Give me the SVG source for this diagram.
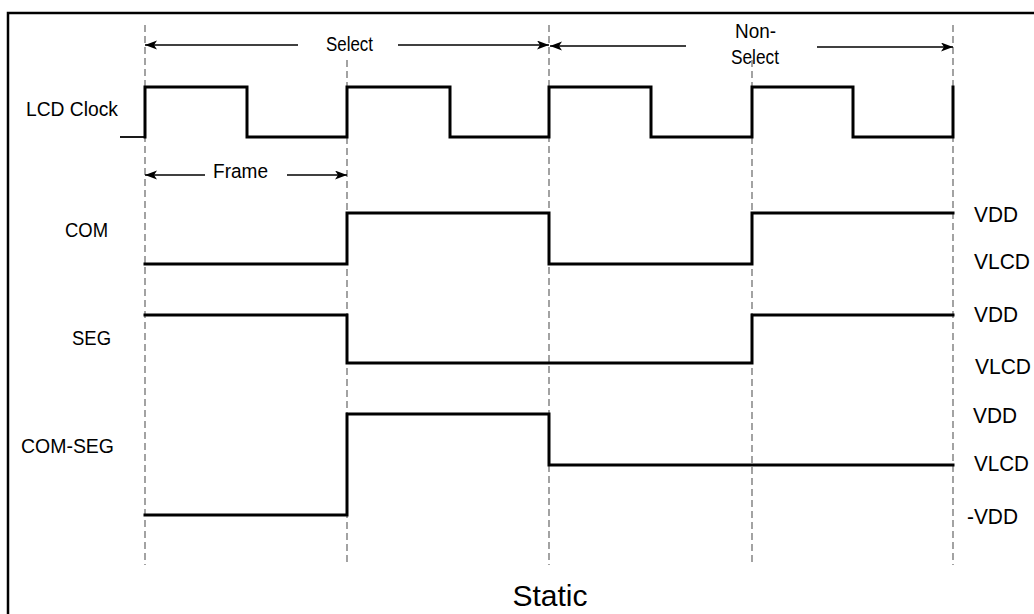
<svg xmlns="http://www.w3.org/2000/svg" width="1034" height="614" viewBox="0 0 1034 614">
<style>
.lbl{font-family:"Liberation Sans",Arial,sans-serif;font-size:20.5px;fill:#000}
.rl{font-family:"Liberation Sans",Arial,sans-serif;font-size:21.5px;fill:#000}
.wave{fill:none;stroke:#000;stroke-width:3;stroke-linejoin:miter;stroke-linecap:square}
.grid{stroke:#8c8c8c;stroke-width:1.6;stroke-dasharray:7 4;fill:none}
.arr{stroke:#000;stroke-width:1.5;fill:none;marker-end:url(#ah)}
</style>
<defs>
<marker id="ah" markerUnits="userSpaceOnUse" markerWidth="13" markerHeight="10" refX="12" refY="4.5" orient="auto">
<path d="M0,0 L12,4.5 L0,9 L3,4.5 Z" fill="#000"/>
</marker>
</defs>
<rect x="0" y="0" width="1034" height="614" fill="#fff"/>
<rect id="border" x="8" y="13" width="1040" height="620" fill="none" stroke="#000" stroke-width="2.5"/>
<g id="gridlines">
<line class="grid" x1="145" y1="25" x2="145" y2="565"/>
<line class="grid" x1="347" y1="60" x2="347" y2="563"/>
<line class="grid" x1="549" y1="25" x2="549" y2="565"/>
<line class="grid" x1="752" y1="60" x2="752" y2="564"/>
<line class="grid" x1="953" y1="25" x2="953" y2="565"/>
</g>
<g id="lcd-clock">
<text class="lbl" x="26" y="116" textLength="92" lengthAdjust="spacingAndGlyphs">LCD Clock</text>
<line x1="120" y1="137" x2="145" y2="137" stroke="#000" stroke-width="1.8"/>
<path class="wave" d="M145,137 V87 H247 V137 H347 V87 H450 V137 H549 V87 H651 V137 H752 V87 H853 V137 H953 V87"/>
</g>
<g id="com">
<text class="lbl" x="65" y="237" textLength="43" lengthAdjust="spacingAndGlyphs">COM</text>
<path class="wave" d="M145,264 H347 V213 H549 V264 H752 V213 H953"/>
<text class="rl" x="974" y="222" textLength="44" lengthAdjust="spacingAndGlyphs">VDD</text>
<text class="rl" x="974" y="269" textLength="56" lengthAdjust="spacingAndGlyphs">VLCD</text>
</g>
<g id="seg">
<text class="lbl" x="72" y="345" textLength="39" lengthAdjust="spacingAndGlyphs">SEG</text>
<path class="wave" d="M145,315 H347 V363 H752 V315 H953"/>
<text class="rl" x="974" y="322" textLength="44" lengthAdjust="spacingAndGlyphs">VDD</text>
<text class="rl" x="975" y="374" textLength="56" lengthAdjust="spacingAndGlyphs">VLCD</text>
</g>
<g id="com-seg">
<text class="lbl" x="21" y="453" textLength="93" lengthAdjust="spacingAndGlyphs">COM-SEG</text>
<path class="wave" d="M145,515 H347 V414 H549 V465 H953"/>
<text class="rl" x="973" y="423" textLength="44" lengthAdjust="spacingAndGlyphs">VDD</text>
<text class="rl" x="974" y="471" textLength="55" lengthAdjust="spacingAndGlyphs">VLCD</text>
<text class="rl" x="967" y="524" textLength="51" lengthAdjust="spacingAndGlyphs">-VDD</text>
</g>
<g id="connectors">
<line class="arr" x1="298" y1="45" x2="145" y2="45"/>
<line class="arr" x1="398" y1="45" x2="549" y2="45"/>
<line class="arr" x1="686" y1="46" x2="550" y2="46"/>
<line class="arr" x1="817" y1="47" x2="953" y2="47"/>
<line class="arr" x1="205" y1="175" x2="145" y2="175"/>
<line class="arr" x1="287" y1="175" x2="347" y2="175"/>
</g>
<g id="span-labels">
<text class="lbl" x="326" y="51" textLength="47" lengthAdjust="spacingAndGlyphs">Select</text>
<text class="lbl" x="735" y="38" textLength="41" lengthAdjust="spacingAndGlyphs">Non-</text>
<text class="lbl" x="731" y="64" textLength="48" lengthAdjust="spacingAndGlyphs">Select</text>
<text class="lbl" x="213" y="178" textLength="55" lengthAdjust="spacingAndGlyphs">Frame</text>
</g>
<g id="title">
<text x="550" y="606" text-anchor="middle" font-family="Liberation Sans, Arial, sans-serif" font-size="30" fill="#000">Static</text>
</g>
</svg>
